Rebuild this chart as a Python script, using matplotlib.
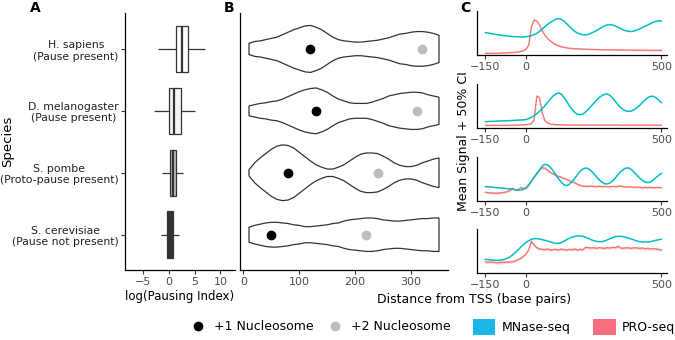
import numpy as np
import matplotlib
matplotlib.use("Agg")
import matplotlib.pyplot as plt
from matplotlib.lines import Line2D
from matplotlib.patches import Patch

plt.rcParams['font.family'] = ['DejaVu Sans']

# ---- A: pausing index per species (box stats) ----
species = ['H. sapiens\n(Pause present)', 'D. melanogaster\n(Pause present)',
           'S. pombe\n(Proto-pause present)', 'S. cerevisiae\n(Pause not present)']
pi_low = [-2.1, -2.9, -1.3, -1.5]
pi_q1 = [1.35, 0.06, 0.25, -0.3]
pi_med = [2.5, 1.0, 0.8, 0.3]
pi_q3 = [3.65, 2.3, 1.5, 0.8]
pi_high = [7.1, 5.1, 2.8, 2.0]

# ---- B: nucleosome position violins (half width, in rows) ----
violin_x = [10, 20, 30, 40, 50, 60, 70, 80, 90, 100, 110, 120, 130, 140, 150, 160, 170, 180,
            190, 200, 210, 220, 230, 240, 250, 260, 270, 280, 290, 300, 310, 320, 330, 340, 350]
hw_sapiens = [.09, .12, .13, .15, .17, .19, .23, .27, .31, .34, .37, .38, .35, .31, .25, .19, .15, .13,
              .12, .11, .11, .12, .13, .14, .16, .18, .21, .24, .25, .27, .28, .28, .27, .25, .22]
hw_melano = [.08, .10, .12, .13, .15, .16, .19, .23, .27, .31, .34, .36, .37, .34, .30, .24, .19, .16,
             .13, .12, .12, .12, .14, .17, .20, .24, .26, .28, .29, .30, .30, .29, .26, .24, .22]
hw_pombe = [.05, .16, .24, .31, .38, .43, .45, .44, .40, .33, .26, .19, .13, .09, .06, .06, .09, .13,
            .19, .25, .30, .32, .32, .31, .27, .22, .16, .12, .10, .10, .12, .16, .19, .22, .24]
hw_cerev = [.12, .15, .17, .19, .20, .20, .19, .18, .16, .15, .13, .13, .14, .15, .16, .18, .19, .22,
            .24, .25, .26, .27, .27, .26, .24, .23, .22, .22, .23, .24, .25, .26, .26, .27, .27]
nuc1 = [120, 130, 80, 50]
nuc2 = [320, 310, 240, 220]

# ---- C: metaprofiles, -150..500 bp every 10 bp ----
tss_x = list(range(-150, 501, 10))
mnase = [
    [67, 66, 64.5, 63, 61.5, 60, 59, 58, 57, 56, 55.5, 55, 54.5, 54, 54, 55, 56, 58, 61, 65, 71, 78,
     85, 92, 98, 103, 107, 109, 107, 102, 94, 86, 78, 71, 66, 63, 60.5, 60, 62, 65, 69, 73, 78, 83,
     87, 90, 91, 90, 87, 83, 79, 75, 72.5, 71, 70.5, 72, 75, 78, 82, 86, 90, 94, 98, 101, 103, 102],
    [19, 19.5, 20, 20, 20.5, 21, 21, 21.5, 22, 22, 22.5, 23, 23.5, 24, 24.5, 25, 28, 32, 37, 43, 50, 58,
     67, 77, 87, 96, 102, 105, 102, 92, 80, 67, 56, 47, 41, 40, 42, 48, 56, 65, 74, 83, 91, 97,
     101, 102, 98, 90, 80, 70, 61, 55, 51, 50, 51, 55, 61, 68, 76, 84, 91, 95, 95, 91, 84, 76],
    [43, 42.5, 42, 41, 40, 39.5, 39, 38, 37, 36, 35, 34, 33, 33, 35, 40, 49, 60, 71, 82, 93, 105,
     110, 108, 101, 91, 79, 67, 57, 49, 46, 50, 58, 68, 79, 89, 96, 99, 97, 91, 83, 73, 64, 57,
     52, 51, 54, 60, 69, 79, 88, 95, 99, 99, 94, 86, 77, 69, 62, 57, 55, 57, 63, 70, 77, 83],
    [41, 40, 39, 38.5, 38, 38, 39, 41, 44, 48, 54, 61, 69, 77, 85, 92, 97, 101, 103, 103, 102, 100,
     98, 96, 93, 91, 89, 89, 91, 95, 100, 104, 107, 110, 111, 111, 110, 107, 104, 100, 97, 95, 94, 94,
     96, 99, 103, 106, 109, 110, 110, 109, 107, 104, 102, 99, 96, 94, 93, 93, 93, 94, 96, 98, 100, 101],
]
proseq = [
    [5, 5, 5, 5, 5.5, 5.5, 6, 6, 6.5, 7, 7.5, 8, 9, 11, 13, 17, 30, 85, 105, 102, 90, 73,
     59, 49, 42, 36, 31, 28, 25, 23, 21.5, 20.5, 19.5, 19, 18.5, 18, 17.5, 17.3, 17, 16.8, 16.6, 16.4, 16.2, 16,
     15.8, 15.7, 15.5, 15.4, 15.3, 15.2, 15.1, 15, 14.9, 14.8, 14.7, 14.6, 14.5, 14.4, 14.3, 14.2, 14.1, 14,
     13.9, 13.8, 13.7, 13.6],
    [8, 8, 8, 8, 8, 8, 8, 8, 8, 8, 8.5, 8.5, 9, 9, 9.5, 10, 11, 13, 25, 96, 90, 45,
     22, 15, 12, 11, 10, 10, 9.5, 9.5, 9, 9, 9, 9, 9, 9, 9, 9, 9, 9, 9, 9, 9, 9,
     9, 9, 9, 9, 9, 9, 8.5, 8.5, 8.5, 8.5, 8.5, 8.5, 8.5, 8.5, 8.5, 8.5, 8.5, 8.5, 8.5, 8.5, 8.5, 8.5],
    [26, 25, 24, 24, 23, 24, 25, 26, 28, 31, 38, 33, 32, 40, 38, 38, 47, 60, 72, 83, 93, 100,
     98, 92, 86, 81, 77, 74, 71, 68, 65, 61, 58, 55, 50, 47, 45, 44, 44, 45, 44, 43, 44, 43,
     44, 43, 43, 44, 43, 44, 45, 43, 42, 43, 42, 41, 42, 41, 40, 41, 40, 41, 40, 40, 41, 40],
    [33, 32, 33, 32, 31, 31, 32, 32, 33, 33, 34, 36, 40, 44, 50, 57, 70, 95, 84, 76, 72, 71,
     70, 72, 69, 70, 71, 69, 72, 70, 69, 71, 70, 72, 69, 71, 70, 77, 76, 75, 76, 74, 76, 75,
     74, 76, 75, 77, 76, 80, 75, 74, 76, 75, 74, 76, 75, 74, 75, 73, 74, 72, 73, 72, 71, 69],
]
ci_half = [1.5, 1.5, 3, 4]

W, H = 675, 340
fig = plt.figure(figsize=(W / 100, H / 100), dpi=100)


def px_axes(left, top, right, bottom):
    return fig.add_axes([left / W, 1 - bottom / H, (right - left) / W, (bottom - top) / H])


def classic(ax):
    for s in ['top', 'right']:
        ax.spines[s].set_visible(False)
    for s in ['left', 'bottom']:
        ax.spines[s].set_linewidth(0.9)
    ax.tick_params(length=3, width=0.8, color='#333333', labelcolor='#4D4D4D', labelsize=8, pad=2)


rows = [4, 3, 2, 1]

# A
axA = px_axes(125, 13, 235, 270)
classic(axA)
box_fill = ['#FFFFFF', '#F4F4F4', '#BDBDBD', '#333333']
axA.hlines(rows, pi_low, pi_q1, color='#333333', lw=0.9)
axA.hlines(rows, pi_q3, pi_high, color='#333333', lw=0.9)
axA.barh(rows, np.subtract(pi_q3, pi_q1), left=pi_q1, height=0.75,
         color=box_fill, edgecolor='#333333', lw=0.9, zorder=3)
for r, m in zip(rows, pi_med):
    axA.vlines(m, r - 0.375, r + 0.375, color='#333333', lw=1.6, zorder=4)
axA.set_xlim(-8.4, 12.8)
axA.set_ylim(0.43, 4.58)
axA.set_xticks([-5, 0, 5, 10])
axA.set_yticks(rows)
axA.set_yticklabels(species, fontsize=7.8, color='#222222')
axA.tick_params(axis='y', pad=1.5)
for t in axA.get_yticklabels():
    t.set_multialignment('center')
axA.set_xlabel('log(Pausing Index)', fontsize=8.5, labelpad=2)

# B
axB = px_axes(239.5, 13, 448.5, 270)
classic(axB)
for r, hw in zip(rows, [hw_sapiens, hw_melano, hw_pombe, hw_cerev]):
    hw = np.array(hw)
    xs = np.r_[violin_x, violin_x[::-1]]
    ys = np.r_[r + hw, (r - hw)[::-1]]
    axB.fill(xs, ys, facecolor='white', edgecolor='#333333', lw=0.9)
axB.scatter(nuc1, rows, s=36, color='black', zorder=3)
axB.scatter(nuc2, rows, s=36, color='#BDBDBD', zorder=3)
axB.set_xlim(-7, 367)
axB.set_ylim(0.43, 4.58)
axB.set_yticks([])
axB.set_xticks([0, 100, 200, 300])

# C
c_boxes = [(11, 55), (84, 128), (157, 201), (229, 273)]
for (top, bot), mn, pr, ci in zip(c_boxes, mnase, proseq, ci_half):
    ax = px_axes(477.3, top, 666.7, bot)
    classic(ax)
    pr = np.array(pr)
    ax.fill_between(tss_x, pr - ci, pr + ci, color='#F8766D', alpha=0.25, lw=0)
    ax.plot(tss_x, pr, color='#F8766D', lw=1.0)
    ax.plot(tss_x, mn, color='#00BFC4', lw=1.1)
    ax.set_xlim(-180, 520)
    ax.set_ylim(0, 132)
    ax.set_yticks([])
    ax.set_xticks([-150, 0, 500])

fig.text(30 / W, 1 - 8 / H, 'A', fontsize=10, fontweight='bold', ha='left', va='center')
fig.text(224 / W, 1 - 8 / H, 'B', fontsize=10, fontweight='bold', ha='left', va='center')
fig.text(460 / W, 1 - 8 / H, 'C', fontsize=10, fontweight='bold', ha='left', va='center')
fig.text(8 / W, 1 - 141 / H, 'Species', fontsize=9.5, rotation=90, ha='center', va='center')
fig.text(474 / W, 1 - 300 / H, 'Distance from TSS (base pairs)', fontsize=9, ha='center', va='center')
fig.text(464 / W, 1 - 141 / H, 'Mean Signal + 50% CI', fontsize=9, rotation=90, ha='center', va='center')

pt_handles = [Line2D([], [], marker='o', ls='', color='black', markersize=6),
              Line2D([], [], marker='o', ls='', color='#BDBDBD', markersize=6)]
fig.legend(pt_handles, ['+1 Nucleosome', '+2 Nucleosome'], loc='center', ncol=2,
           bbox_to_anchor=(320 / W, 1 - 327 / H), frameon=False, fontsize=9,
           handlelength=1.4, handletextpad=0.6, columnspacing=1.0)
fill_handles = [Patch(facecolor='#1AB6E8', edgecolor='none'),
                Patch(facecolor='#F76E7E', edgecolor='none')]
fig.legend(fill_handles, ['MNase-seq', 'PRO-seq'], loc='center', ncol=2,
           bbox_to_anchor=(574 / W, 1 - 327 / H), frameon=False, fontsize=9,
           handlelength=1.8, handleheight=1.6, handletextpad=0.5, columnspacing=1.8)

fig.savefig('out.png', dpi=100)
